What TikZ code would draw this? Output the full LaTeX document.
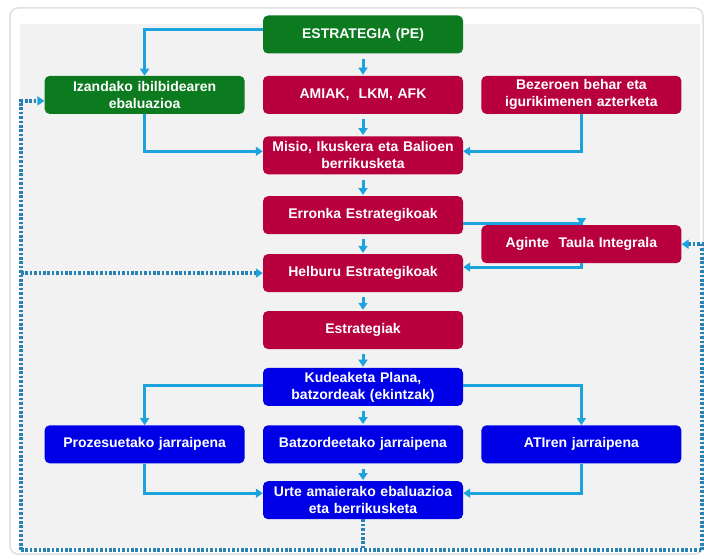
\documentclass[tikz,border=0pt]{standalone}
\usepackage{fontspec}
\setmainfont{Liberation Sans}
\usepackage{tikz}
\usetikzlibrary{positioning, arrows.meta}

\definecolor{pegreen}{RGB}{12,122,30}
\definecolor{pered}{RGB}{184,0,62}
\definecolor{peblue}{RGB}{0,0,230}
\definecolor{flowc}{RGB}{27,163,221}
\definecolor{dotc}{RGB}{40,130,180}
\definecolor{panel}{RGB}{242,242,242}

\tikzset{
  box/.style={rectangle, rounded corners=5pt, minimum height=38pt, text width=190pt,
    inner xsep=5pt, inner ysep=2pt, align=center, text=white,
    font=\fontsize{14}{17}\selectfont\bfseries},
  gbox/.style={box, fill=pegreen},
  rbox/.style={box, fill=pered},
  bbox/.style={box, fill=peblue},
  flow/.style={draw=flowc, line width=3pt, ->},
  down/.style={flow, shorten <=5pt, shorten >=1pt},
  loop/.style={draw=dotc, line width=3.6pt, dash pattern=on 2.6pt off 1.8pt}
}

\begin{document}
\begin{tikzpicture}[x=1pt, y=-1pt, node distance=18.5pt and 18pt,
  >={Triangle[length=7pt, width=9pt]}]
\useasboundingbox (0,0) rectangle (704,559);
\draw[black!12, line width=1.5pt, rounded corners=8pt, fill=white] (10,8) rectangle (703,554);
\fill[panel] (20,24) rectangle (700,548);

\node[gbox] (ES) at (363,34.5) {ESTRATEGIA (PE)};
\node[rbox, below=22pt of ES] (AM) {AMIAK, \ LKM, AFK};
\node[gbox, left=of AM] (Iz) {Izandako ibilbidearen\\ebaluazioa};
\node[rbox, right=of AM] (Bz) {Bezeroen behar eta\\igurikimenen azterketa};
\node[rbox, below=22pt of AM] (Mi) {Misio, Ikuskera eta Balioen\\berrikusketa};
\node[rbox, below=21.5pt of Mi] (Er) {Erronka Estrategikoak};
\node[rbox, right=of Er, yshift=-29pt] (AT) {Aginte \ Taula Integrala};
\node[rbox, below=19.5pt of Er] (He) {Helburu Estrategikoak};
\node[rbox, below=of He] (Es) {Estrategiak};
\node[bbox, below=of Es] (Ku) {Kudeaketa Plana,\\batzordeak (ekintzak)};
\node[bbox, below=19pt of Ku] (Bt) {Batzordeetako jarraipena};
\node[bbox, left=of Bt] (Pr) {Prozesuetako jarraipena};
\node[bbox, right=of Bt] (AI) {ATIren jarraipena};
\node[bbox, below=17.5pt of Bt] (Ur) {Urte amaierako ebaluazioa\\eta berrikusketa};

\path (ES) edge[down] (AM);
\path (AM) edge[down] (Mi);
\path (Mi) edge[down] (Er);
\path (Er) edge[down] (He);
\path (He) edge[down] (Es);
\path (Es) edge[down] (Ku);
\path (Ku) edge[down] (Bt);
\path (Bt) edge[down] (Ur);

\draw[flow] ([yshift=5pt]ES.west) -| (Iz.north);
\draw[flow] (Iz.south) |- ([yshift=4pt]Mi.west);
\draw[flow] (Bz.south) |- ([yshift=4pt]Mi.east);
\draw[flow] ([yshift=-8pt]Er.east) -| (AT.north);
\draw[flow] (AT.south) |- ([yshift=6pt]He.east);
\draw[flow] ([yshift=1pt]Ku.west) -| (Pr.north);
\draw[flow] ([yshift=1pt]Ku.east) -| (AI.north);
\draw[flow] (Pr.south) |- ([yshift=7pt]Ur.west);
\draw[flow] (AI.south) |- ([yshift=7pt]Ur.east);

\coordinate (bl) at (21,550);
\coordinate (br) at (702,550);
\draw[loop] (Ur.south) -- (Ur.south |- bl);
\draw[loop] (bl) -- (br);
\draw[loop, ->, >={Triangle[length=7pt, width=9pt, color=flowc]}] (bl) |- ([yshift=-6pt]Iz.west);
\draw[loop, ->, >={Triangle[length=7pt, width=9pt, color=flowc]}] (bl |- He.west) -- (He.west);
\draw[loop, ->, >={Triangle[length=7pt, width=9pt, color=flowc]}] (br) |- (AT.east);
\end{tikzpicture}
\end{document}
